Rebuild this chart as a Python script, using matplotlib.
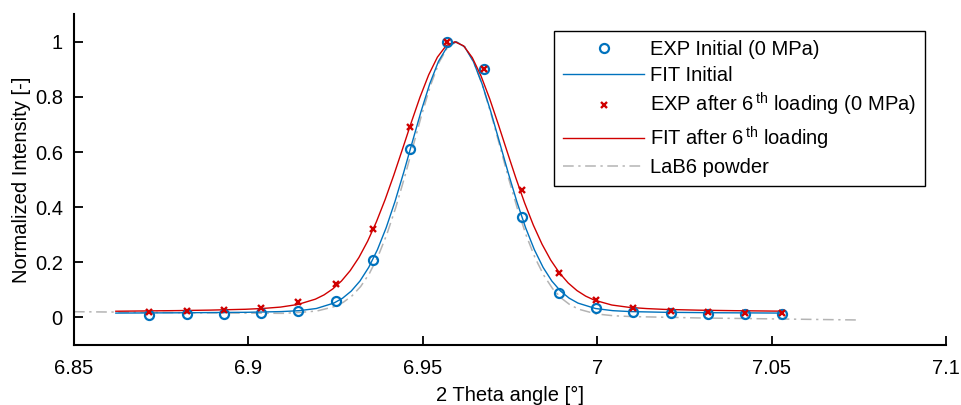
import numpy as np
import matplotlib.pyplot as plt

plt.rcParams['font.family'] = ['Liberation Sans', 'DejaVu Sans']
plt.rcParams['mathtext.fontset'] = 'custom'
plt.rcParams['mathtext.rm'] = 'Liberation Sans'
plt.rcParams['font.size'] = 14.5

# measured points (same 2theta positions for both scans)
x_exp = [6.8716, 6.8823, 6.8930, 6.9036, 6.9143, 6.9250, 6.9357, 6.9464, 6.9570,
         6.9677, 6.9784, 6.9890, 6.9997, 7.0104, 7.0211, 7.0318, 7.0424, 7.0531]
y_exp_init = [0.009, 0.011, 0.012, 0.015, 0.023, 0.059, 0.21, 0.61, 1.0,
              0.90, 0.365, 0.09, 0.035, 0.019, 0.015, 0.014, 0.013, 0.012]
y_exp_6th = [0.02, 0.023, 0.027, 0.035, 0.055, 0.122, 0.32, 0.69, 1.0,
             0.90, 0.462, 0.162, 0.062, 0.034, 0.024, 0.02, 0.018, 0.016]

# fit curves
x_fit_init = [6.862, 6.8795, 6.8995, 6.9095, 6.9145, 6.9195, 6.9245, 6.927, 6.9295,
              6.932, 6.9345, 6.937, 6.9395, 6.942, 6.9445, 6.947, 6.9495, 6.952,
              6.9545, 6.957, 6.9595, 6.962, 6.9645, 6.967, 6.9695, 6.972, 6.9745,
              6.977, 6.9795, 6.982, 6.9845, 6.987, 6.9895, 6.992, 6.9945, 6.9995,
              7.0045, 7.0095, 7.0195, 7.0345, 7.053]
y_fit_init = [0.016, 0.017, 0.0188, 0.0214, 0.0247, 0.0326, 0.0522, 0.0699, 0.0958,
              0.1323, 0.1817, 0.2458, 0.3252, 0.4191, 0.5246, 0.6361, 0.7468, 0.8474,
              0.9286, 0.9815, 1.0, 0.9815, 0.9286, 0.8474, 0.7468, 0.6361, 0.5246,
              0.4191, 0.3252, 0.2458, 0.1817, 0.1323, 0.0958, 0.0699, 0.0522, 0.0326,
              0.0247, 0.0214, 0.0188, 0.0172, 0.016]

x_fit_6th = [6.862, 6.8792, 6.8892, 6.8992, 6.9042, 6.9092, 6.9142, 6.9192, 6.9217,
             6.9242, 6.9267, 6.9292, 6.9317, 6.9342, 6.9367, 6.9392, 6.9417, 6.9442,
             6.9467, 6.9492, 6.9517, 6.9542, 6.9567, 6.9592, 6.9617, 6.9642, 6.9667,
             6.9692, 6.9717, 6.9742, 6.9767, 6.9792, 6.9817, 6.9842, 6.9867, 6.9892,
             6.9917, 6.9942, 6.9967, 6.9992, 7.0042, 7.0092, 7.0142, 7.0192, 7.0292,
             7.0392, 7.053]
y_fit_6th = [0.0227, 0.0249, 0.0268, 0.0298, 0.0328, 0.0377, 0.0472, 0.0664, 0.082,
             0.1036, 0.1324, 0.170, 0.2177, 0.2768, 0.3467, 0.4273, 0.5165, 0.6111,
             0.7071, 0.7988, 0.880, 0.9442, 0.9858, 1.0, 0.9852, 0.9424, 0.8761,
             0.7927, 0.6988, 0.6013, 0.5054, 0.4156, 0.3351, 0.2657, 0.2079, 0.1615,
             0.1251, 0.0977, 0.0775, 0.0629, 0.0452, 0.0367, 0.0323, 0.0294, 0.0265,
             0.0247, 0.0229]

x_lab6 = [6.85, 6.88, 6.91, 6.9147, 6.9197, 6.9247, 6.9272, 6.9297, 6.9322, 6.9347,
          6.9372, 6.9397, 6.9422, 6.9447, 6.9472, 6.9497, 6.9522, 6.9547, 6.9572,
          6.9597, 6.9622, 6.9647, 6.9672, 6.9697, 6.9722, 6.9747, 6.9772, 6.9797,
          6.9822, 6.9847, 6.9872, 6.9897, 6.9922, 6.9947, 6.9997, 7.0047, 7.0097,
          7.0297, 7.0745]
y_lab6 = [0.021, 0.0175, 0.015, 0.0183, 0.0236, 0.0394, 0.0549, 0.0783, 0.1124, 0.1596,
          0.2223, 0.3016, 0.3965, 0.5047, 0.6203, 0.7356, 0.8407, 0.9257, 0.981,
          1.0, 0.9803, 0.9244, 0.8387, 0.7329, 0.617, 0.5007, 0.3918, 0.2963,
          0.2163, 0.1529, 0.1051, 0.0703, 0.0462, 0.0301, 0.0129, 0.0063, 0.0034,
          -0.0018, -0.009]

x_ticks = [6.85, 6.9, 6.95, 7.0, 7.05, 7.1]
x_ticklabels = ['6.85', '6.9', '6.95', '7', '7.05', '7.1']
y_ticks = [0, 0.2, 0.4, 0.6, 0.8, 1.0]
y_ticklabels = ['0', '0.2', '0.4', '0.6', '0.8', '1']

c_blue = '#0072BD'
c_red = '#D00000'
c_gray = '#B4B4B4'

fig = plt.figure(figsize=(9.62, 4.05), dpi=100)
ax = fig.add_axes([0.0769, 0.148, 0.9064, 0.817])

ax.plot(x_exp, y_exp_init, 'o', mfc='none', mec=c_blue, ms=6.5, mew=1.6,
        label='EXP Initial (0 MPa)', zorder=4)
ax.plot(x_fit_init, y_fit_init, '-', color=c_blue, lw=1.0, label='FIT Initial', zorder=3)
ax.plot(x_exp, y_exp_6th, 'x', color=c_red, ms=4.5, mew=1.7,
        label=r'EXP after 6$^{\,\mathrm{th}}$ loading (0 MPa)', zorder=5)
ax.plot(x_fit_6th, y_fit_6th, '-', color=c_red, lw=1.0,
        label=r'FIT after 6$^{\,\mathrm{th}}$ loading', zorder=3)
ax.plot(x_lab6, y_lab6, '-.', color=c_gray, lw=1.1, dashes=(7, 3, 1.5, 3),
        label='LaB6 powder', zorder=2)

ax.set_xlim(6.85, 7.1)
ax.set_ylim(-0.1, 1.1)
ax.set_xticks(x_ticks)
ax.set_xticklabels(x_ticklabels)
ax.set_yticks(y_ticks)
ax.set_yticklabels(y_ticklabels)
ax.tick_params(direction='in', length=6.5, width=1.3, labelsize=14.5, pad=8)
ax.tick_params(axis='x', pad=10)
for s in ['top', 'right']:
    ax.spines[s].set_visible(False)
for s in ['left', 'bottom']:
    ax.spines[s].set_linewidth(1.5)

ax.set_xlabel('2 Theta angle [°]', fontsize=14.5, labelpad=6)
ax.set_ylabel('Normalized Intensity [-]', fontsize=14.5, labelpad=3)

leg = ax.legend(loc='upper right', bbox_to_anchor=(0.976, 0.949), borderaxespad=0,
                fancybox=False, framealpha=1, edgecolor='black', numpoints=1,
                handlelength=4.0, handletextpad=0.3, labelspacing=0.32,
                borderpad=0.45, fontsize=14.5)
leg.get_frame().set_linewidth(1.0)

plt.savefig('out.png', dpi=100)
